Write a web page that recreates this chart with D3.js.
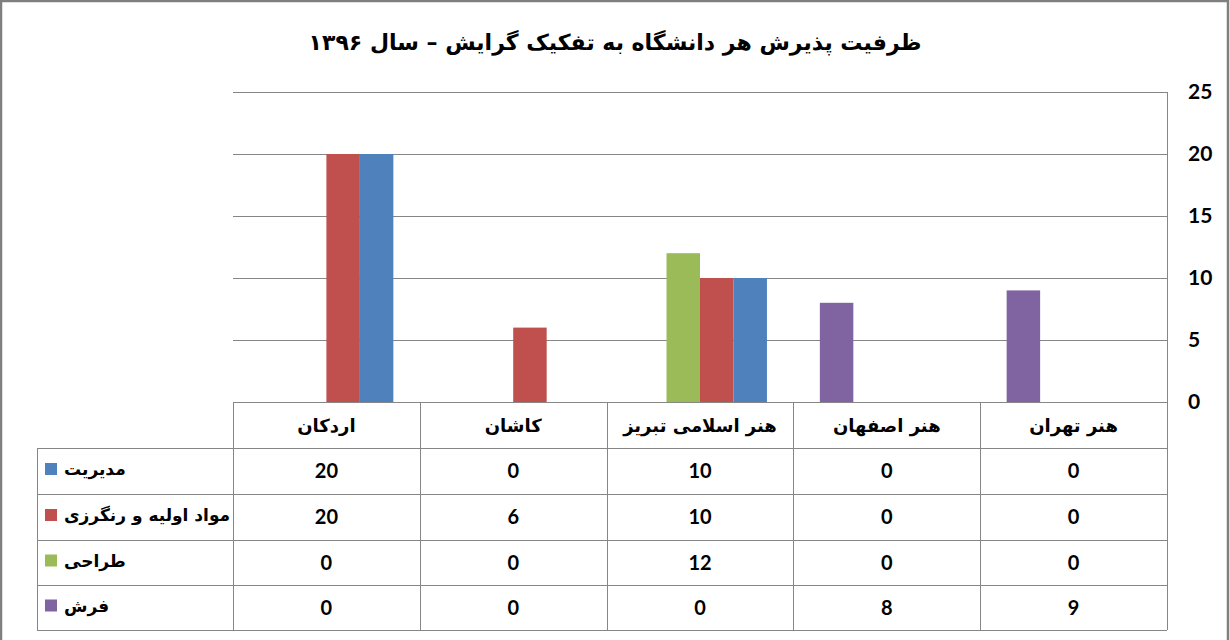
<!DOCTYPE html>
<html><head><meta charset="utf-8">
<script src="https://cdn.jsdelivr.net/npm/d3@7"></script>
<style>
html,body{margin:0;padding:0;background:#fff;}
svg text{font-weight:bold;}
</style></head>
<body>
<svg id="chart" width="1230" height="640"></svg>
<script>
const title = "ظرفیت پذیرش هر دانشگاه به تفکیک گرایش – سال ۱۳۹۶";
const categories = ["اردکان", "کاشان", "هنر اسلامی تبریز", "هنر اصفهان", "هنر تهران"];
const seriesNames = ["مدیریت", "مواد اولیه و رنگرزی", "طراحی", "فرش"];
const seriesColors = ["#4F81BD", "#C0504D", "#9BBB59", "#8064A2"];
const modiriat = [20, 0, 10, 0, 0];
const mavad = [20, 6, 10, 0, 0];
const tarahi = [0, 0, 12, 0, 0];
const farsh = [0, 0, 0, 8, 9];
const seriesValues = [modiriat, mavad, tarahi, farsh];
const yTicks = [0, 5, 10, 15, 20, 25];

const svg = d3.select("#chart");
const persianFont = "'DejaVu Sans', sans-serif";
const numFont = "Lato, 'Open Sans', sans-serif";
const gridColor = "#868686";

// outer border (bottom edge falls outside the picture, as in the reference)
svg.append("rect").attr("x", 1).attr("y", 1).attr("width", 1227).attr("height", 645)
  .attr("fill", "#fff").attr("stroke", "#7f7f7f").attr("stroke-width", 2.5);

// title
svg.append("text").attr("x", 615).attr("y", 50).attr("text-anchor", "middle")
  .attr("direction", "rtl")
  .style("font-family", persianFont).style("font-size", "22px").attr("fill", "#000")
  .text(title);

const plotL = 233, plotR = 1167, plotT = 92, plotB = 402;
const x0 = d3.scaleBand().domain(categories).range([plotL, plotR]).padding(0);
const order = [3, 2, 1, 0]; // فرش, طراحی, مواد, مدیریت left to right
const x1 = d3.scaleBand().domain(order).range([0, x0.bandwidth()]).paddingInner(0).paddingOuter(0.79);
const y = d3.scaleLinear().domain([0, 25]).range([plotB, plotT]);

// gridlines
svg.append("g").selectAll("line").data(yTicks.filter(t => t > 0)).join("line")
  .attr("x1", plotL).attr("x2", plotR)
  .attr("y1", d => Math.round(y(d)) + 0.5).attr("y2", d => Math.round(y(d)) + 0.5)
  .attr("stroke", gridColor).attr("stroke-width", 1);

// right axis line
svg.append("line").attr("x1", plotR + 0.5).attr("x2", plotR + 0.5).attr("y1", plotT).attr("y2", plotB)
  .attr("stroke", gridColor);

// bars
const groups = svg.append("g").selectAll("g").data(categories).join("g")
  .attr("transform", d => `translate(${x0(d)},0)`);
groups.each(function(cat, ci) {
  d3.select(this).selectAll("rect").data(order).join("rect")
    .attr("x", s => x1(s)).attr("width", x1.bandwidth())
    .attr("y", s => y(seriesValues[s][ci]))
    .attr("height", s => plotB - y(seriesValues[s][ci]))
    .attr("fill", s => seriesColors[s]);
});

// y axis labels (right)
svg.append("g").selectAll("text").data(yTicks).join("text")
  .attr("x", 1188).attr("y", d => y(d) + 7)
  .style("font-family", numFont).style("font-size", "21px").attr("fill", "#000")
  .text(d => d);

// data table
const rowYs = [402, 448, 494, 540, 585, 630];
const tableL = 37;
const tg = svg.append("g");
rowYs.forEach((ry, i) => {
  tg.append("line").attr("x1", i === 0 ? plotL : tableL).attr("x2", plotR)
    .attr("y1", ry + 0.5).attr("y2", ry + 0.5).attr("stroke", gridColor);
});
const colXs = [plotL].concat(categories.map(c => x0(c) + x0.bandwidth()));
colXs.forEach(cx => {
  tg.append("line").attr("x1", Math.round(cx) + 0.5).attr("x2", Math.round(cx) + 0.5)
    .attr("y1", plotB).attr("y2", 630).attr("stroke", gridColor);
});
tg.append("line").attr("x1", tableL + 0.5).attr("x2", tableL + 0.5)
  .attr("y1", 448).attr("y2", 630).attr("stroke", gridColor);

// header category labels
tg.selectAll("text.cat").data(categories).join("text").attr("class", "cat")
  .attr("x", d => x0(d) + x0.bandwidth() / 2).attr("y", 432)
  .attr("text-anchor", "middle").attr("direction", "rtl")
  .style("font-family", persianFont).style("font-size", "18px").attr("fill", "#000")
  .text(d => d);

// rows
seriesNames.forEach((name, si) => {
  const top = rowYs[si + 1], bot = rowYs[si + 2];
  const cy = (top + bot) / 2;
  tg.append("rect").attr("x", 45).attr("y", cy - 8).attr("width", 12).attr("height", 12)
    .attr("fill", seriesColors[si]);
  tg.append("text").attr("x", 64).attr("y", cy + 4)
    .attr("text-anchor", "start")
    .style("font-family", persianFont).style("font-size", "17px").attr("fill", "#000")
    .text(name);
  categories.forEach((cat, ci) => {
    tg.append("text").attr("x", x0(cat) + x0.bandwidth() / 2).attr("y", cy + 7)
      .attr("text-anchor", "middle")
      .style("font-family", numFont).style("font-size", "20px").attr("fill", "#000")
      .text(seriesValues[si][ci]);
  });
});
</script>
</body></html>
